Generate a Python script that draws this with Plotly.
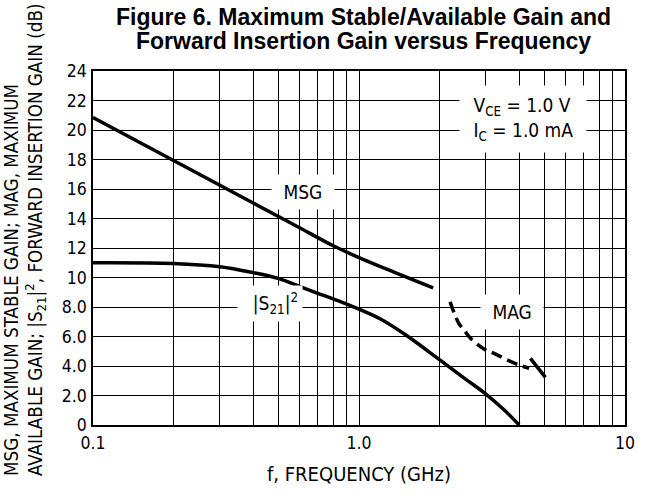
import plotly.graph_objects as go

# ---- data ----
msg_f = [0.1, 0.2, 0.3, 0.4, 0.5, 0.6, 0.8, 1.0, 1.36, 1.9]
msg_db = [20.85, 17.95, 16.25, 15.05, 14.12, 13.36, 12.15, 11.35, 10.35, 9.3]

s21_f = [0.1, 0.2, 0.3, 0.4, 0.5, 0.6, 0.7, 0.8, 1.0, 1.2, 1.5, 2.0, 2.5, 3.0, 3.5, 4.0]
s21_db = [11.0, 10.95, 10.73, 10.33, 9.92, 9.38, 8.93, 8.55, 7.85, 7.2, 6.1, 4.45, 3.15, 2.1, 1.05, 0.0]

mag_f = [2.2, 2.29, 2.38, 2.48, 2.62, 2.95, 3.22, 3.62, 4.02, 4.36]
mag_db = [8.35, 7.5, 6.85, 6.45, 5.9, 5.15, 4.85, 4.4, 4.05, 3.85]

mag2_f = [4.41, 5.02]
mag2_db = [4.52, 3.23]

x_grid = [0.1, 0.2, 0.3, 0.4, 0.5, 0.6, 0.7, 0.8, 0.9,
          1, 2, 3, 4, 5, 6, 7, 8, 9, 10]
x_labels = {0.1: "0.1", 1: "1.0", 10: "10"}
y_ticks = [0, 2, 4, 6, 8, 10, 12, 14, 16, 18, 20, 22, 24]
y_labels = ["0", "2.0", "4.0", "6.0", "8.0", "10", "12", "14", "16", "18", "20", "22", "24"]

FONT = "DejaVu Sans Condensed, Liberation Sans Narrow, sans-serif"
BOLD = "Liberation Sans, Arial, sans-serif"

fig = go.Figure()
fig.add_trace(go.Scatter(x=msg_f, y=msg_db, mode="lines",
                         line=dict(color="black", width=3.5, shape="spline"), showlegend=False))
fig.add_trace(go.Scatter(x=s21_f, y=s21_db, mode="lines",
                         line=dict(color="black", width=3.5, shape="spline"), showlegend=False))
fig.add_trace(go.Scatter(x=mag_f, y=mag_db, mode="lines",
                         line=dict(color="black", width=3.5, dash="11px,6px", shape="spline"),
                         showlegend=False))
fig.add_trace(go.Scatter(x=mag2_f, y=mag2_db, mode="lines",
                         line=dict(color="black", width=3.5), showlegend=False))

fig.update_xaxes(type="log", range=[-1, 1],
                 tickvals=x_grid, ticktext=[x_labels.get(v, "") for v in x_grid],
                 showgrid=True, gridcolor="black", gridwidth=1.2,
                 showline=True, linecolor="black", linewidth=1.5, mirror=True,
                 ticks="", ticklabelstandoff=1,
                 tickfont=dict(family=FONT, size=17.5, color="black"),
                 zeroline=False)
fig.update_yaxes(range=[0, 24], tickvals=y_ticks, ticktext=y_labels,
                 showgrid=True, gridcolor="black", gridwidth=1.2,
                 showline=True, linecolor="black", linewidth=1.5, mirror=True,
                 ticks="", ticklabelstandoff=1,
                 tickfont=dict(family=FONT, size=17.5, color="black"),
                 zeroline=False)

lab = dict(family=FONT, size=19, color="black")
ann = [
    dict(text="<b>Figure 6. Maximum Stable/Available Gain and</b>",
         xref="paper", yref="paper", x=0.509, y=1.1525, xanchor="center", yanchor="middle",
         showarrow=False, font=dict(family=BOLD, size=23, color="black")),
    dict(text="<b>Forward Insertion Gain versus Frequency</b>",
         xref="paper", yref="paper", x=0.509, y=1.0847, xanchor="center", yanchor="middle",
         showarrow=False, font=dict(family=BOLD, size=23, color="black")),
    dict(text="MSG, MAXIMUM STABLE GAIN; MAG, MAXIMUM<br>"
              "AVAILABLE GAIN; |S<sub>21</sub>|<sup>2</sup>, FORWARD INSERTION GAIN (dB)",
         xref="paper", yref="paper", x=0, xshift=-68, y=0.5, yshift=8, align="left",
         xanchor="center", yanchor="middle", textangle=-90,
         showarrow=False, font=dict(family=FONT, size=18.7, color="black")),
    dict(text="f, FREQUENCY (GHz)", xref="paper", yref="paper", x=0.5, y=0, yshift=-49,
         xanchor="center", yanchor="middle", showarrow=False,
         font=dict(family=FONT, size=20, color="black")),
    dict(text="&nbsp;MSG&nbsp;", x=-0.21, y=15.8, xref="x", yref="y", showarrow=False,
         bgcolor="white", borderpad=6, font=lab),
    dict(text="&nbsp;&nbsp;|S<sub>21</sub>|<sup>2</sup>", x=-0.335, y=8.25, xref="x", yref="y",
         showarrow=False, bgcolor="white", borderpad=4, font=lab),
    dict(text="&nbsp;MAG&nbsp;", x=0.575, y=7.67, xref="x", yref="y", showarrow=False,
         bgcolor="white", borderpad=6, font=lab),
    dict(text="&nbsp;V<sub>CE</sub> = 1.0 V&nbsp;<br>&nbsp;I<sub>C</sub> = 1.0 mA&nbsp;", x=0.616, y=20.75,
         xref="x", yref="y", showarrow=False, align="left",
         bgcolor="white", borderpad=8, font=lab),
]

fig.update_layout(width=645, height=498, margin=dict(l=93, r=10, t=71, b=73),
                  plot_bgcolor="white", paper_bgcolor="white", annotations=ann)

fig.write_html("out.html", config={"displayModeBar": False},
               post_script="document.body.style.margin='0px';document.body.style.overflow='hidden';")
